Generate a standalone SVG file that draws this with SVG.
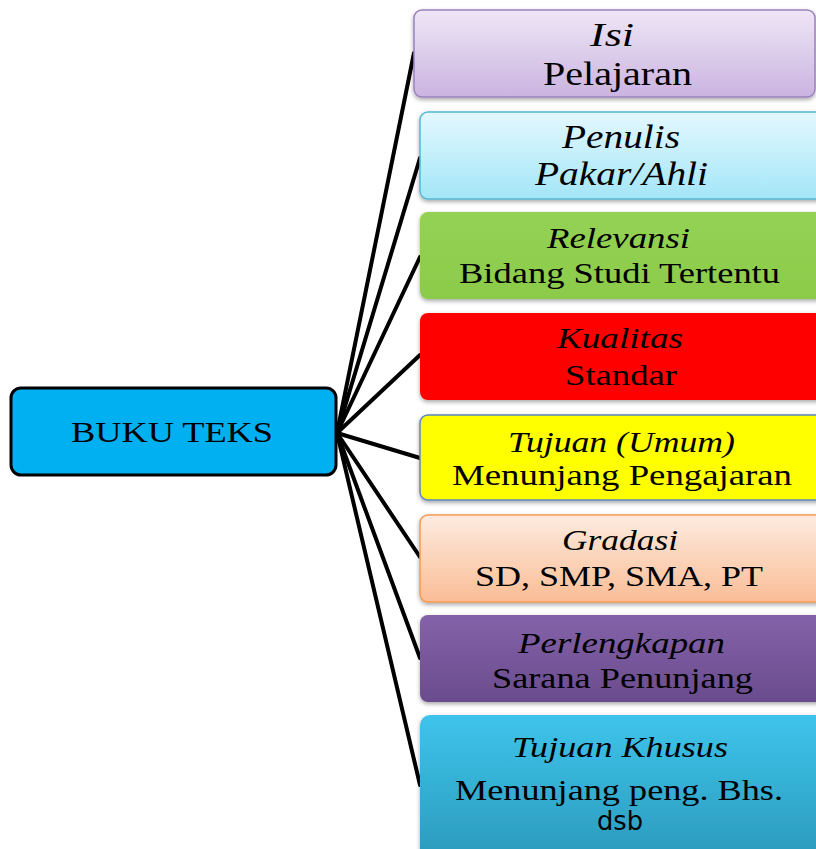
<svg xmlns="http://www.w3.org/2000/svg" width="816" height="849" viewBox="0 0 816 849">
<defs>
<linearGradient id="gIsi" x1="0" y1="0" x2="0" y2="1"><stop offset="0" stop-color="#EEE6F6"/><stop offset="1" stop-color="#CBB4E0"/></linearGradient>
<linearGradient id="gPen" x1="0" y1="0" x2="0" y2="1"><stop offset="0" stop-color="#E4F8FE"/><stop offset="1" stop-color="#A3E6F8"/></linearGradient>
<linearGradient id="gRel" x1="0" y1="0" x2="0" y2="1"><stop offset="0" stop-color="#94D254"/><stop offset="1" stop-color="#8CCB4A"/></linearGradient>
<linearGradient id="gGra" x1="0" y1="0" x2="0" y2="1"><stop offset="0" stop-color="#FDEBDF"/><stop offset="1" stop-color="#FABD96"/></linearGradient>
<linearGradient id="gPer" x1="0" y1="0" x2="0" y2="1"><stop offset="0" stop-color="#8462A8"/><stop offset="1" stop-color="#6A4C8E"/></linearGradient>
<linearGradient id="gTK" x1="0" y1="0" x2="0" y2="1"><stop offset="0" stop-color="#3EC4EC"/><stop offset="1" stop-color="#2996B6"/></linearGradient>
<filter id="sh" x="-5%" y="-10%" width="110%" height="130%"><feDropShadow dx="0" dy="2" stdDeviation="2" flood-color="#000" flood-opacity="0.35"/></filter>
</defs>
<style>
.box{filter:url(#sh)}
.t{font-family:"Liberation Serif","Times New Roman",serif;font-size:29px;fill:#000;text-anchor:middle}
.big{font-size:33px}
.i{font-style:italic}
.c{stroke:#000;stroke-width:4;fill:none;stroke-linecap:round}
</style>
<rect width="816" height="849" fill="#fff"/>
<g id="connectors">
<line class="c" x1="337" y1="433" x2="414" y2="53"/>
<line class="c" x1="337" y1="433" x2="420" y2="158"/>
<line class="c" x1="337" y1="433" x2="420" y2="257"/>
<line class="c" x1="337" y1="433" x2="420" y2="355"/>
<line class="c" x1="337" y1="433" x2="420" y2="458"/>
<line class="c" x1="337" y1="433" x2="420" y2="557"/>
<line class="c" x1="337" y1="433" x2="420" y2="658"/>
<line class="c" x1="337" y1="433" x2="420" y2="785"/>
</g>
<g id="buku-teks">
<rect x="11" y="388" width="325" height="87" rx="10" fill="#00B0F0" stroke="#000" stroke-width="3"/>
<text class="t" x="172" y="442" font-size="30" textLength="202" lengthAdjust="spacingAndGlyphs">BUKU TEKS</text>
</g>
<g id="isi">
<rect class="box" x="414" y="10" width="401" height="87" rx="8" fill="url(#gIsi)" stroke="#9C82BC" stroke-width="1.5"/>
<text class="t i big" x="612" y="46" textLength="44" lengthAdjust="spacingAndGlyphs">Isi</text>
<text class="t big" x="617.5" y="85" textLength="149" lengthAdjust="spacingAndGlyphs">Pelajaran</text>
</g>
<g id="penulis">
<rect class="box" x="420" y="112" width="420" height="87" rx="8" fill="url(#gPen)" stroke="#56B8D2" stroke-width="1.5"/>
<text class="t i big" x="621" y="148" textLength="118" lengthAdjust="spacingAndGlyphs">Penulis</text>
<text class="t i big" x="621.5" y="185" textLength="173" lengthAdjust="spacingAndGlyphs">Pakar/Ahli</text>
</g>
<g id="relevansi">
<rect class="box" x="420" y="212" width="420" height="87" rx="8" fill="url(#gRel)"/>
<text class="t i" x="618.5" y="248" textLength="143" lengthAdjust="spacingAndGlyphs">Relevansi</text>
<text class="t" x="619.5" y="283" textLength="321" lengthAdjust="spacingAndGlyphs">Bidang Studi Tertentu</text>
</g>
<g id="kualitas">
<rect class="box" x="420" y="313" width="420" height="87" rx="8" fill="#FF0000"/>
<text class="t i" x="620" y="348" textLength="126" lengthAdjust="spacingAndGlyphs">Kualitas</text>
<text class="t" x="621" y="385" textLength="112" lengthAdjust="spacingAndGlyphs">Standar</text>
</g>
<g id="tujuan-umum">
<rect class="box" x="420" y="415" width="420" height="85" rx="8" fill="#FFFF00" stroke="#5B86C0" stroke-width="1.5"/>
<text class="t i" x="621.5" y="452" textLength="227" lengthAdjust="spacingAndGlyphs">Tujuan (Umum)</text>
<text class="t" x="622" y="485" textLength="340" lengthAdjust="spacingAndGlyphs">Menunjang Pengajaran</text>
</g>
<g id="gradasi">
<rect class="box" x="420" y="515" width="420" height="87" rx="8" fill="url(#gGra)" stroke="#F59A55" stroke-width="1.5"/>
<text class="t i" x="620" y="550" textLength="116" lengthAdjust="spacingAndGlyphs">Gradasi</text>
<text class="t" x="619" y="586" textLength="288" lengthAdjust="spacingAndGlyphs">SD, SMP, SMA, PT</text>
</g>
<g id="perlengkapan">
<rect class="box" x="420" y="615" width="420" height="87" rx="8" fill="url(#gPer)"/>
<text class="t i" x="621.5" y="653" textLength="207" lengthAdjust="spacingAndGlyphs">Perlengkapan</text>
<text class="t" x="622.5" y="688" textLength="261" lengthAdjust="spacingAndGlyphs">Sarana Penunjang</text>
</g>
<g id="tujuan-khusus">
<rect class="box" x="420" y="715" width="420" height="160" rx="10" fill="url(#gTK)"/>
<text class="t i" x="620" y="757" textLength="216" lengthAdjust="spacingAndGlyphs">Tujuan Khusus</text>
<text class="t" x="619" y="800" textLength="328" lengthAdjust="spacingAndGlyphs">Menunjang peng. Bhs.</text>
<text x="620" y="830" font-family="'DejaVu Sans','Verdana',sans-serif" font-size="26" text-anchor="middle" textLength="46" lengthAdjust="spacingAndGlyphs">dsb</text>
</g>
</svg>
